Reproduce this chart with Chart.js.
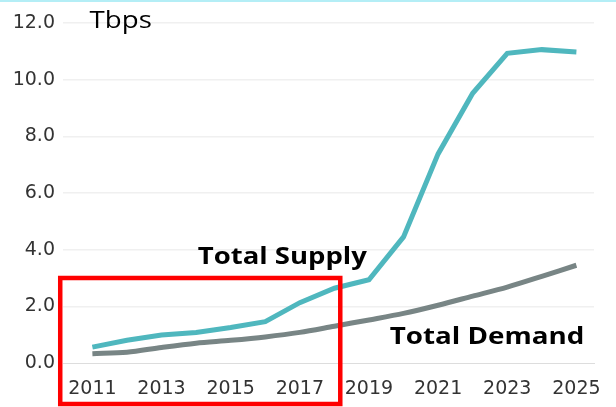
<!DOCTYPE html>
<html>
<head>
<meta charset="utf-8">
<script src="https://cdn.jsdelivr.net/npm/chart.js@4/dist/chart.umd.min.js"></script>
<style>
  html, body { margin: 0; padding: 0; background: #ffffff; }
  #wrap { width: 616px; height: 407px; position: relative; }
</style>
</head>
<body>
<div id="wrap"><canvas id="c"></canvas></div>
<script>
// ---- data ----
const years = [2011, 2012, 2013, 2014, 2015, 2016, 2017, 2018, 2019, 2020, 2021, 2022, 2023, 2024, 2025];
const totalSupply = [0.56, 0.80, 0.99, 1.08, 1.25, 1.46, 2.13, 2.64, 2.94, 4.45, 7.38, 9.52, 10.93, 11.06, 10.98];
const totalDemand = [0.33, 0.38, 0.55, 0.70, 0.80, 0.92, 1.08, 1.30, 1.52, 1.75, 2.04, 2.36, 2.68, 3.06, 3.45];
const xTickYears = [2011, 2013, 2015, 2017, 2019, 2021, 2023, 2025];
const yTickValues = [0, 2, 4, 6, 8, 10, 12];
const unitLabel = 'Tbps';
const supplyLabel = 'Total Supply';
const demandLabel = 'Total Demand';

const overlay = {
  id: 'overlay',
  beforeDraw(chart) {
    const ctx = chart.ctx;
    ctx.save();
    ctx.fillStyle = '#ffffff';
    ctx.fillRect(0, 0, chart.width, chart.height);
    ctx.fillStyle = '#b4eef6';
    ctx.fillRect(0, 0, chart.width, 2);
    ctx.restore();
  },
  afterDraw(chart) {
    const ctx = chart.ctx;
    const xs = chart.scales.x, ys = chart.scales.y;
    // text fitted between two x positions (data units), vertically centred on a value
    function fittedText(txt, x0, x1, yv, font) {
      ctx.save();
      ctx.font = font;
      ctx.fillStyle = '#000000';
      ctx.textBaseline = 'middle';
      ctx.textAlign = 'left';
      const left = xs.getPixelForValue(x0);
      const right = xs.getPixelForValue(x1);
      const sx = (right - left) / ctx.measureText(txt).width;
      ctx.translate(left, ys.getPixelForValue(yv));
      ctx.scale(sx, 1);
      ctx.fillText(txt, 0, 0);
      ctx.restore();
    }
    fittedText(unitLabel, 2010.92, 2012.72, 12.05, '500 23px "Open Sans"');
    fittedText(supplyLabel, 2014.05, 2018.94, 3.74, 'bold 24px "Open Sans"');
    fittedText(demandLabel, 2019.6, 2025.23, 0.9, 'bold 24px "Open Sans"');

    // red highlight box
    ctx.save();
    ctx.strokeStyle = '#ff0000';
    ctx.lineWidth = 4.5;
    const l = xs.getPixelForValue(2010.07);
    const r = xs.getPixelForValue(2018.17);
    const t = ys.getPixelForValue(3.0);
    const b = chart.height - 3;
    ctx.strokeRect(l, t, r - l, b - t);
    ctx.restore();
  }
};

new Chart(document.getElementById('c'), {
  type: 'line',
  data: {
    datasets: [
      {
        label: supplyLabel,
        data: years.map((y, i) => ({ x: y, y: totalSupply[i] })),
        borderColor: '#4fb7be',
        borderWidth: 5,
        pointRadius: 0,
        tension: 0,
        fill: false
      },
      {
        label: demandLabel,
        data: years.map((y, i) => ({ x: y, y: totalDemand[i] })),
        borderColor: '#788585',
        borderWidth: 5,
        pointRadius: 0,
        tension: 0.3,
        fill: false
      }
    ]
  },
  options: {
    responsive: true,
    maintainAspectRatio: false,
    animation: false,
    layout: { padding: { top: 23, right: 13, bottom: 0, left: 0 } },
    plugins: { legend: { display: false }, tooltip: { enabled: false } },
    scales: {
      x: {
        type: 'linear',
        min: 2010.15,
        max: 2025.51,
        afterBuildTicks(axis) { axis.ticks = xTickYears.map(v => ({ value: v })); },
        afterFit(axis) { axis.height = 44; },
        grid: { display: false, drawTicks: false },
        border: { display: true, color: '#dddddd', width: 1, dash: [2, 4] },
        ticks: {
          autoSkip: false,
          maxRotation: 0,
          padding: 15,
          color: '#333333',
          font: { family: '"DejaVu Sans"', size: 19 },
          callback: v => String(v)
        }
      },
      y: {
        min: 0,
        max: 12,
        afterBuildTicks(axis) { axis.ticks = yTickValues.map(v => ({ value: v })); },
        afterFit(axis) { axis.width = 63; },
        grid: {
          drawTicks: false,
          color: c => (c.tick && c.tick.value === 0) ? 'rgba(0,0,0,0)' : '#f0f0f0',
          lineWidth: 1.5
        },
        border: { display: false },
        ticks: {
          padding: 8,
          color: '#333333',
          font: { family: '"DejaVu Sans"', size: 19 },
          callback: v => Number(v).toFixed(1)
        }
      }
    }
  },
  plugins: [overlay]
});
</script>
</body>
</html>
